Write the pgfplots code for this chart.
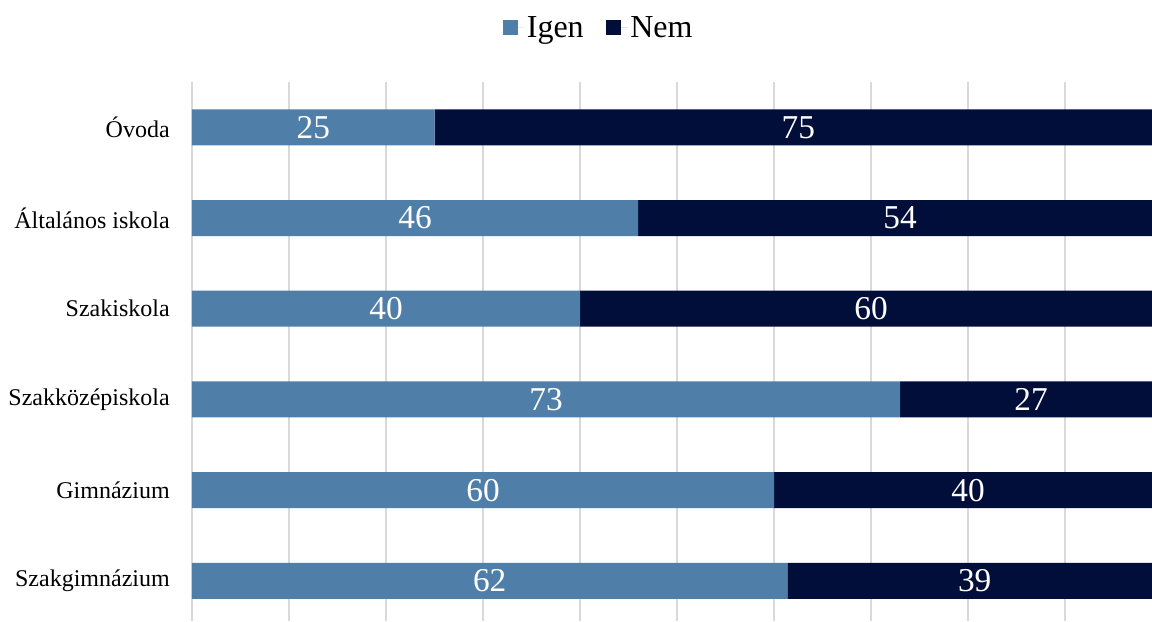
\documentclass[border=0pt]{standalone}
\usepackage{fontspec}
\setmainfont{Liberation Serif}
\usepackage{pgfplots}
\usepackage{pgfplotstable}
\pgfplotsset{compat=1.18}
\definecolor{igen}{RGB}{79,126,168}
\definecolor{nem}{RGB}{1,14,58}
\definecolor{gridc}{RGB}{217,217,217}
\pgfplotstableread{
idx igen nem igenlab nemlab igenmid nemmid
0 25 75 25 75 12.5 62.5
1 46 54 46 54 23 73
2 40 60 40 60 20 70
3 73 27 73 27 36.5 86.5
4 60 40 60 40 30 80
5 61.386 38.614 62 39 30.693 80.693
}\datatable
\pgfplotsset{
  common/.style={
    scale only axis,
    width=720pt, height=404.25pt,
    xmin=0, xmax=98.97,
    ymin=-0.5, ymax=5.443,
    y dir=reverse,
  }
}
\begin{document}
\begin{tikzpicture}
\begin{axis}[
  common,
  xbar stacked,
  bar width=27pt,
  ytick={0,...,5},
  yticklabels={Óvoda, Általános iskola, Szakiskola, Szakközépiskola, Gimnázium, Szakgimnázium},
  xtick={0,10,...,90},
  xticklabels={},
  xmajorgrids,
  grid style={gridc, line width=1pt},
  axis line style={draw=none},
  major tick length=0pt,
  yticklabel style={font=\fontsize{18}{18}\selectfont, anchor=east, inner sep=0pt, xshift=-16.5pt},
  legend style={at={(0.424,1.101)}, anchor=center, legend columns=2, draw=none, font=\fontsize{24}{24}\selectfont, /tikz/every even column/.append style={column sep=15pt}},
  legend image code/.code={\fill[#1, draw=none] (0pt,-5.6pt) rectangle (11.25pt,5.6pt); \path (0pt,0pt) -- (16pt,0pt);},
]
\addplot[fill=igen, draw=none] table[x=igen, y=idx] {\datatable};
\addlegendentry{Igen}
\addplot[fill=nem, draw=none] table[x=nem, y=idx] {\datatable};
\addlegendentry{Nem}
\end{axis}
\begin{axis}[
  common,
  hide axis,
  clip=false,
  nodes near coords,
  point meta=explicit symbolic,
  every node near coord/.append style={font=\fontsize{25}{25}\selectfont, text=white, anchor=center},
]
\addplot[only marks, mark=none] table[x=igenmid, y=idx, meta=igenlab] {\datatable};
\addplot[only marks, mark=none] table[x=nemmid, y=idx, meta=nemlab] {\datatable};
\end{axis}
\pgfresetboundingbox
\path[use as bounding box] ([xshift=-144pt]current axis.south west) rectangle ([yshift=61.5pt]current axis.north east);
\end{tikzpicture}
\end{document}
